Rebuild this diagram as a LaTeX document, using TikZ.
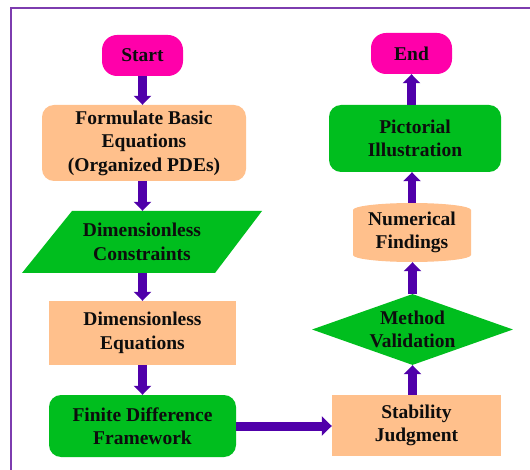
\documentclass[tikz,border=0pt]{standalone}
\usepackage{fontspec}
\setmainfont{Liberation Serif}
\usetikzlibrary{arrows.meta,shapes.geometric}
\definecolor{mag}{RGB}{255,0,170}
\definecolor{org}{RGB}{255,192,140}
\definecolor{grn}{RGB}{0,190,30}
\definecolor{arrc}{RGB}{80,0,170}
\definecolor{frm}{RGB}{125,60,175}
\begin{document}
\begin{tikzpicture}[x=1pt,y=-1pt,
  every node/.style={font=\fontsize{19.5}{23.5}\selectfont\bfseries, align=center, inner sep=0pt, text=black!95},
  term/.style={fill=mag, rounded corners=15pt},
  orbox/.style={fill=org},
  grbox/.style={fill=grn, rounded corners=12pt},
  arr/.style={line width=8.5pt, draw=arrc, -{Triangle[width=17pt,length=9pt]}},
  harr/.style={line width=9pt, draw=arrc, -{Triangle[width=19pt,length=10pt]}},
  frame/.style={draw=frm, line width=1.5pt}]
\useasboundingbox (0,0) rectangle (530,470);
\fill[white] (0,0) rectangle (530,470);
\draw[frame] (11,470) -- (11,8) -- (530,8);

% left column
\node[term, minimum width=81pt, minimum height=41pt] (start) at (142.5,55.5) {Start};
\node[orbox, rounded corners=12pt, minimum width=204pt, minimum height=76pt] (form) at (144,143) {Formulate Basic\\Equations\\(Organized PDEs)};
\fill[grn] (72,211) -- (262,211) -- (215,273) -- (22,273) -- cycle;
\node[minimum width=150pt, minimum height=62pt] (cons) at (142,242) {Dimensionless\\Constraints};
\node[orbox, minimum width=187pt, minimum height=64pt] (deq) at (142.5,333) {Dimensionless\\Equations};
\node[grbox, minimum width=187pt, minimum height=62pt] (fin) at (142.5,426) {Finite Difference\\Framework};

% right column
\node[term, minimum width=81pt, minimum height=41pt] (end) at (411.5,53.5) {End};
\node[grbox, minimum width=172pt, minimum height=67pt] (pic) at (415,138.5) {Pictorial\\Illustration};
\fill[org] (353,210) arc[start angle=180, end angle=360, x radius=59, y radius=7] -- (471,255) arc[start angle=0, end angle=180, x radius=59, y radius=7] -- cycle;
\node[minimum width=118pt, minimum height=59pt] (num) at (412,232.5) {Numerical\\Findings};
\node[diamond, fill=grn, aspect=2.83, minimum width=201pt, minimum height=71pt] (val) at (412.5,329.5) {Method\\Validation};
\node[orbox, minimum width=169pt, minimum height=61pt] (stab) at (416.5,425.5) {Stability\\Judgment};

% connectors
\draw[arr] (start.south) -- (start.south |- form.north);
\draw[arr] (form.south -| start.south) -- (start.south |- cons.north);
\draw[arr] (cons.south -| start.south) -- (start.south |- deq.north);
\draw[arr] (deq.south -| start.south) -- (start.south |- fin.north);
\draw[harr] (fin.east) -- (fin.east -| stab.west);
\draw[arr] (stab.north -| val.south) -- (val.south);
\draw[arr] (val.north) -- (val.north |- num.south);
\draw[arr] (num.north) -- (num.north |- pic.south);
\draw[arr] (pic.north -| end.south) -- (end.south);
\end{tikzpicture}
\end{document}
